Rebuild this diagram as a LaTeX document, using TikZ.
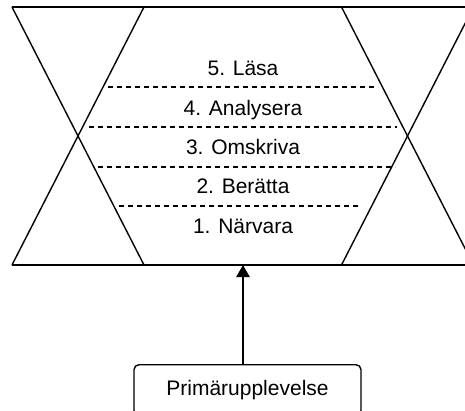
\documentclass[tikz,border=0pt]{standalone}
\usepackage{fontspec}
\setmainfont{Liberation Sans}
\usetikzlibrary{arrows.meta}
\begin{document}
\begin{tikzpicture}[x=1pt,y=-1pt, line width=1.4pt,
  level/.style={font=\fontsize{21}{25}\selectfont, anchor=base, inner sep=0pt},
  sep/.style={line width=1.3pt, dash pattern=on 5pt off 4pt}]
\useasboundingbox (0,0) rectangle (465,411);
\clip (0,0) rectangle (465,411);
\coordinate (tl) at (12,7);
\coordinate (tr) at (480,7);
\coordinate (bl) at (12,265);
\coordinate (br) at (480,265);
\coordinate (base) at (243,265);
\draw (tl) -- (tr);
\draw (bl) -- (br);
\draw (12,7) -- (144,265);
\draw (144,7) -- (12,265);
\draw (341.5,7) -- (473.5,265);
\draw (473.5,7) -- (341.5,265);
\draw [sep] (108,87) -- (378,87);
\draw [sep] (89,127) -- (397,127);
\draw [sep] (98,167) -- (395,167);
\draw [sep] (119,206) -- (360,206);
\node [level] (l5) at (243,76) {5. Läsa};
\node [level] (l4) at (243,115.3) {4. Analysera};
\node [level] (l3) at (243,154.6) {3. Omskriva};
\node [level] (l2) at (243,194) {2. Berätta};
\node [level] (l1) at (243,233.3) {1. Närvara};
\node [draw, rounded corners=5pt, minimum width=227pt, minimum height=51pt, anchor=north,
  font=\fontsize{21}{25}\selectfont] (prim) at (247.5,364) {Primärupplevelse};
\draw [-{Triangle[length=12pt,width=13pt]}, line width=2.6pt] (prim.north -| base) -- (base);
\end{tikzpicture}
\end{document}
